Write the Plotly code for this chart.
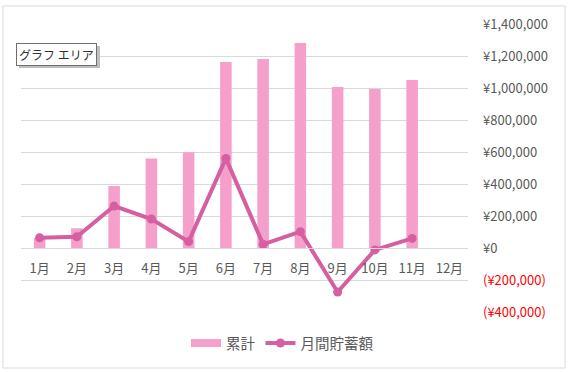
import plotly.graph_objects as go

months = ["1月", "2月", "3月", "4月", "5月", "6月", "7月", "8月", "9月", "10月", "11月", "12月"]
cumulative = [62000, 123000, 387000, 560000, 598000, 1162000, 1181000, 1281000, 1006000, 994000, 1050000, None]
monthly = [64000, 70000, 262000, 181000, 40000, 560000, 23000, 102000, -275000, -12000, 60000, None]
tick_vals = [-400000, -200000, 0, 200000, 400000, 600000, 800000, 1000000, 1200000, 1400000]


def fmt(v):
    if v < 0:
        return '<span style="color:#FF0000">(¥{:,})</span>'.format(-v)
    return "¥{:,}".format(v)


tick_text = [fmt(v) for v in tick_vals]

FONT = "Noto Sans CJK JP, Meiryo, sans-serif"
GRAY = "#595959"
PINK = "#F4A0CA"
MAG = "#D65FA1"

fig = go.Figure()
fig.add_trace(go.Bar(
    x=months, y=cumulative, name="累計", showlegend=False,
    marker=dict(color=PINK, line=dict(width=0)),
    width=0.31,
))
# legend swatch for the bar series (wide rectangle like the original)
fig.add_trace(go.Scatter(
    x=[None], y=[None], name="累計", mode="lines",
    line=dict(color=PINK, width=8),
))
fig.add_trace(go.Scatter(
    x=months, y=monthly, name="月間貯蓄額", mode="lines+markers",
    line=dict(color=MAG, width=4),
    marker=dict(color=MAG, size=9),
))

fig.update_layout(
    width=570, height=372,
    margin=dict(l=21, r=102, t=24, b=60, autoexpand=False),
    paper_bgcolor="white", plot_bgcolor="white",
    font=dict(family=FONT, size=13, color=GRAY),
    showlegend=True,
    legend=dict(orientation="h", x=0.585, xanchor="center", y=-0.108, yanchor="middle",
                font=dict(size=14.5, color=GRAY), traceorder="normal"),
    xaxis=dict(
        type="category", categoryorder="array", categoryarray=months,
        range=[-0.5, len(months) - 0.5],
        anchor="free", position=0.2222, automargin=False,
        showline=True, linecolor="#D9D9D9", linewidth=1,
        showgrid=False, ticks="", ticklabelstandoff=8,
        tickfont=dict(size=13, color=GRAY),
    ),
    yaxis=dict(
        side="right", range=[-400000, 1400000], automargin=False,
        tickvals=tick_vals, ticktext=tick_text,
        showgrid=True, gridcolor="#D9D9D9", gridwidth=1,
        zeroline=False, showline=False, ticks="",
        ticklabelstandoff=14,
        tickfont=dict(size=13, color=GRAY),
    ),
    shapes=[
        dict(type="rect", xref="paper", yref="paper",
             x0=-18 / 447, x1=544 / 447, y0=-56 / 288, y1=306 / 288,
             line=dict(color="#D9D9D9", width=1), fillcolor="rgba(0,0,0,0)", layer="below"),
        dict(type="rect", xref="paper", yref="paper",
             x0=-2 / 447, x1=79 / 447, y0=(312 - 68) / 288, y1=(312 - 46) / 288,
             line=dict(width=0), fillcolor="#BFBFBF", layer="above"),
    ],
    annotations=[
        dict(text="グラフ エリア", xref="paper", yref="paper",
             x=-5 / 447, y=(312 - 43) / 288, xanchor="left", yanchor="top",
             showarrow=False, bgcolor="white", bordercolor="#6E6E6E", borderwidth=1,
             borderpad=2, font=dict(size=12, color="#333333", family=FONT)),
    ],
)

fig.write_html("out.html", config={"displayModeBar": False},
               post_script="document.body.style.margin='0';document.body.style.overflow='hidden';")
